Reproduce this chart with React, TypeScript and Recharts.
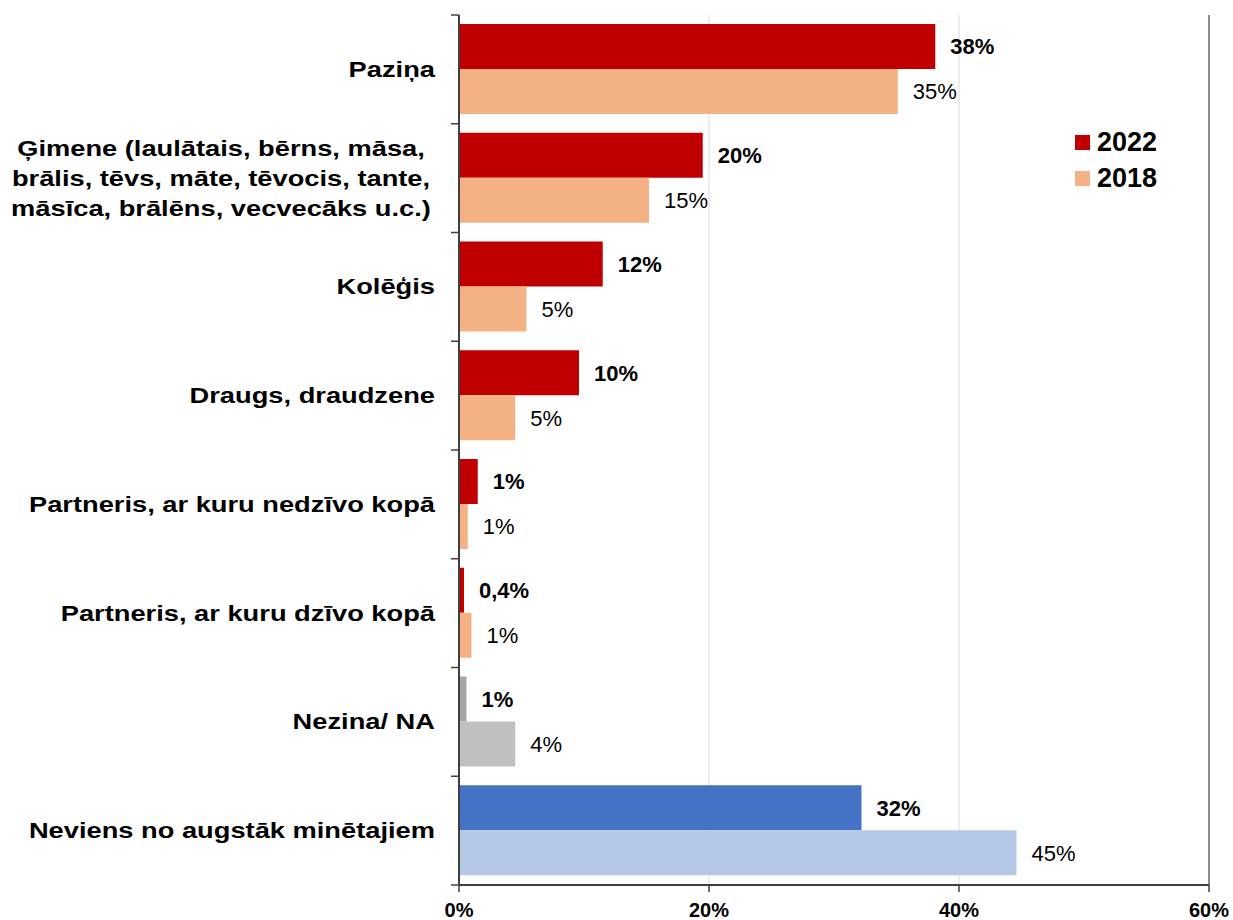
import { BarChart, Bar, XAxis, YAxis, CartesianGrid, Cell, LabelList, ReferenceLine } from 'recharts';

const categories = [
  'Paziņa',
  'Ģimene (laulātais, bērns, māsa,\nbrālis, tēvs, māte, tēvocis, tante,\nmāsīca, brālēns, vecvecāks u.c.)',
  'Kolēģis',
  'Draugs, draudzene',
  'Partneris, ar kuru nedzīvo kopā',
  'Partneris, ar kuru dzīvo kopā',
  'Nezina/ NA',
  'Neviens no augstāk minētajiem',
];

const values2022 = [38.1, 19.5, 11.5, 9.6, 1.5, 0.4, 0.6, 32.2];
const values2018 = [35.1, 15.2, 5.4, 4.5, 0.7, 1.0, 4.5, 44.6];
const labels2022 = ['38%', '20%', '12%', '10%', '1%', '0,4%', '1%', '32%'];
const labels2018 = ['35%', '15%', '5%', '5%', '1%', '1%', '4%', '45%'];

const colors2022 = ['#C00000', '#C00000', '#C00000', '#C00000', '#C00000', '#C00000', '#A6A6A6', '#4472C4'];
const colors2018 = ['#F4B183', '#F4B183', '#F4B183', '#F4B183', '#F4B183', '#F4B183', '#BFBFBF', '#B4C7E7'];

const series = [
  { name: '2022', color: '#C00000' },
  { name: '2018', color: '#F4B183' },
];

const xTicks = [0, 20, 40, 60];

const data = categories.map((name, i) => ({
  name,
  v2022: values2022[i],
  v2018: values2018[i],
  l2022: labels2022[i],
  l2018: labels2018[i],
}));

const FONT = '"Liberation Sans", Arial, sans-serif';
const W = 1233;
const H = 920;
const M_TOP = 15;
const M_BOTTOM = 35;
const AXIS_X = 459;
const BAND = (H - M_TOP - M_BOTTOM) / categories.length;

function CategoryTick(props: any) {
  const { y, payload, index } = props;
  const lines: string[] = String(payload.value).split('\n');
  const lineH = 30;
  const multi = lines.length > 1;
  const tx = multi ? 221 : AXIS_X - 24;
  const y0 = y - ((lines.length - 1) * lineH) / 2;
  return (
    <g>
      <line x1={AXIS_X - 8} x2={AXIS_X} y1={y - BAND / 2} y2={y - BAND / 2} stroke="#404040" strokeWidth={1.5} />
      {index === categories.length - 1 && (
        <line x1={AXIS_X - 8} x2={AXIS_X} y1={y + BAND / 2} y2={y + BAND / 2} stroke="#404040" strokeWidth={1.5} />
      )}
      {lines.map((ln, i) => (
        <text
          key={i}
          transform={`translate(${tx},${y0 + i * lineH}) scale(1.24,1)`}
          textAnchor={multi ? 'middle' : 'end'}
          dominantBaseline="central"
          fontFamily={FONT}
          fontWeight="bold"
          fontSize={22}
          fill="#000"
        >
          {ln}
        </text>
      ))}
    </g>
  );
}

export default function App() {
  return (
    <div style={{ position: 'absolute', left: 0, top: 0, width: W, height: H, background: '#fff' }}>
      <BarChart
        width={W}
        height={H}
        data={data}
        layout="vertical"
        margin={{ top: M_TOP, right: 24, left: 0, bottom: 0 }}
        barGap={0}
        barSize={45}
      >
        <CartesianGrid horizontal={false} stroke="#D9D9D9" />
        <XAxis
          type="number"
          domain={[0, 60]}
          ticks={xTicks}
          tickFormatter={(v) => `${v}%`}
          height={M_BOTTOM}
          axisLine={{ stroke: '#404040', strokeWidth: 2 }}
          tickLine={{ stroke: '#404040', strokeWidth: 1.5 }}
          tickSize={7}
          tickMargin={11}
          tick={{ fontFamily: FONT, fontWeight: 'bold', fontSize: 20, fill: '#000' }}
        />
        <XAxis
          xAxisId="top"
          orientation="top"
          type="number"
          domain={[0, 60]}
          height={0}
          tick={false}
          tickLine={false}
          axisLine={{ stroke: '#8C8C8C', strokeWidth: 2 }}
        />
        <YAxis
          type="category"
          dataKey="name"
          width={AXIS_X}
          axisLine={{ stroke: '#404040', strokeWidth: 2 }}
          tickLine={false}
          tick={<CategoryTick />}
          interval={0}
        />
        <ReferenceLine x={60} stroke="#8C8C8C" strokeWidth={2} />
        <Bar dataKey="v2022" name="2022" fill="#C00000" isAnimationActive={false}>
          {data.map((_, i) => (
            <Cell key={`a-${i}`} fill={colors2022[i]} />
          ))}
          <LabelList
            dataKey="l2022"
            position="right"
            offset={15}
            style={{ fontFamily: FONT, fontWeight: 'bold', fontSize: 22, fill: '#000' }}
          />
        </Bar>
        <Bar dataKey="v2018" name="2018" fill="#F4B183" isAnimationActive={false}>
          {data.map((_, i) => (
            <Cell key={`b-${i}`} fill={colors2018[i]} />
          ))}
          <LabelList
            dataKey="l2018"
            position="right"
            offset={15}
            style={{ fontFamily: FONT, fontSize: 22, fill: '#000' }}
          />
        </Bar>
      </BarChart>
      <div style={{ position: 'absolute', left: 1075, top: 124, fontFamily: FONT }}>
        {series.map((s) => (
          <div key={s.name} style={{ display: 'flex', alignItems: 'center', height: 36 }}>
            <div style={{ width: 15, height: 15, background: s.color, marginRight: 7 }} />
            <span style={{ fontSize: 27, fontWeight: 'bold', color: '#000' }}>{s.name}</span>
          </div>
        ))}
      </div>
    </div>
  );
}
